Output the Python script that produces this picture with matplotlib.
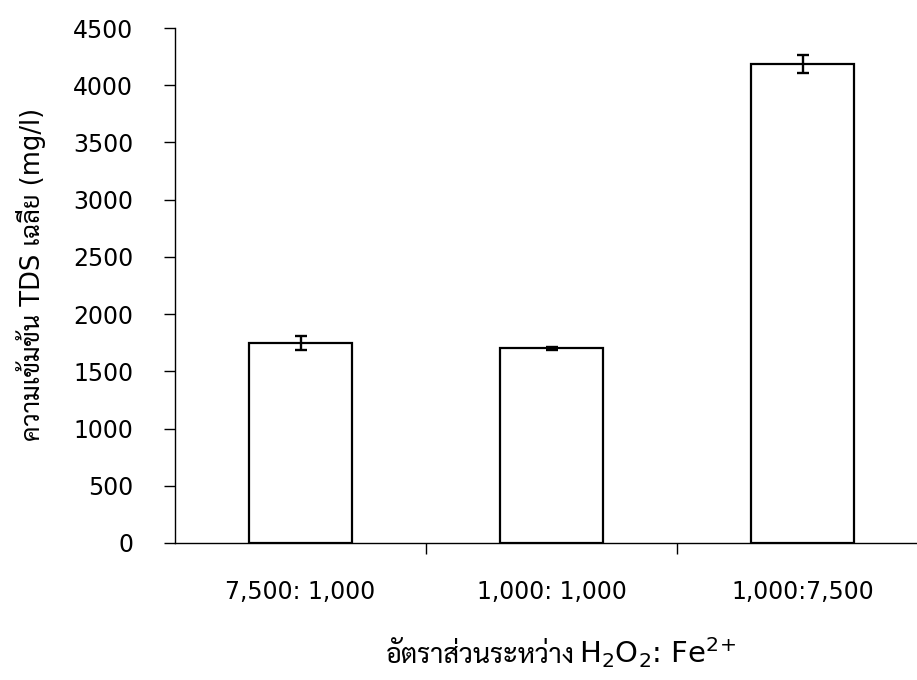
import numpy as np
import matplotlib
matplotlib.use('Agg')
from matplotlib import pyplot as plt
from matplotlib.ticker import FixedLocator

#%% Data

ratios   = ['7,500: 1,000', '1,000: 1,000', '1,000:7,500']
tds_mean = [1745, 1700, 4185]
tds_err  = [60, 15, 75]
y_ticks  = [0, 500, 1000, 1500, 2000, 2500, 3000, 3500, 4000, 4500]

# Latin glyphs from DejaVu, Thai glyphs fall through to Sarabun
fonts = ['DejaVu Sans', 'Sarabun']
plt.rcParams['font.family'] = fonts
plt.rcParams['mathtext.fontset'] = 'dejavusans'

#%% Plot

fig = plt.figure(figsize=(9.17, 6.8), dpi=100)
ax = fig.add_axes([175/917, 137/680, 742/917, 515/680])

x = np.arange(len(ratios))
ax.bar(x, tds_mean, width=0.41, color='white', edgecolor='black', linewidth=1.6, zorder=2)
ax.errorbar(x, tds_mean, yerr=tds_err, fmt='none', ecolor='black',
            elinewidth=1.7, capsize=4.3, capthick=1.7, zorder=3)

ax.set_xlim(-0.5, 2.456)
ax.set_ylim(0, 4500)
ax.set_yticks(y_ticks)
ax.set_yticklabels([str(v) for v in y_ticks])

# category labels centred, tick marks between categories
ax.set_xticks(x)
ax.set_xticklabels(ratios)
ax.xaxis.set_minor_locator(FixedLocator([0.5, 1.5]))
ax.tick_params(axis='x', which='major', length=0, pad=27, labelsize=17)
ax.tick_params(axis='x', which='minor', length=8, width=1, direction='out')
ax.tick_params(axis='y', length=8, width=1, direction='out', pad=22, labelsize=17)

ax.spines['top'].set_visible(False)
ax.spines['right'].set_visible(False)
ax.spines['left'].set_linewidth(1.0)
ax.spines['bottom'].set_linewidth(1.0)

ax.set_ylabel('ความเข้มข้น TDS เฉลี่ย (mg/l)', fontsize=18.5)
ax.yaxis.set_label_coords(-0.174, 0.522)

# x label: Thai text, then the chemical formula in mathtext
fig.text(575/917, 17/680, 'อัตราส่วนระหว่าง', fontsize=19.5,
         ha='right', va='baseline')
fig.text(579/917, 17/680, r'H$_2$O$_2$: Fe$^{2\!+}$', fontsize=21,
         ha='left', va='baseline', family='DejaVu Sans')

fig.savefig('out.png', dpi=100)
